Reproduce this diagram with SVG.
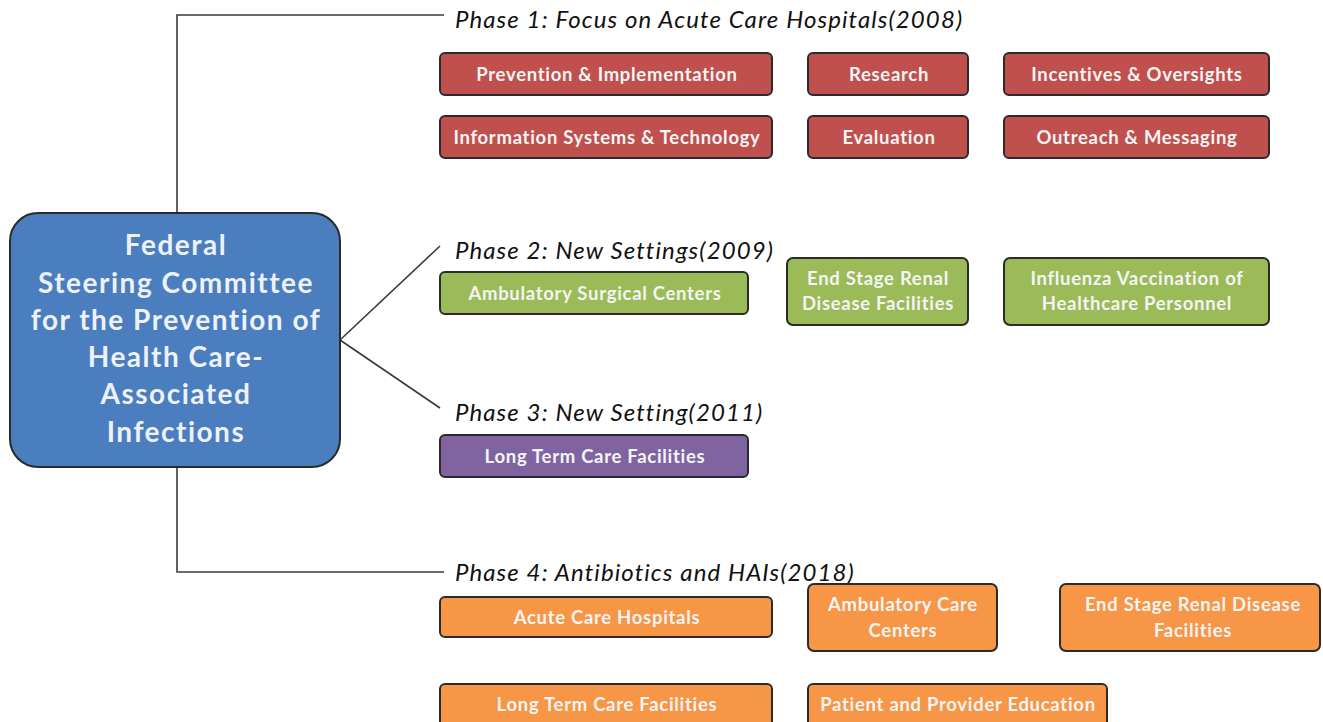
<svg xmlns="http://www.w3.org/2000/svg" width="1323" height="722" viewBox="0 0 1323 722">
  <style>
    .conn { fill: none; stroke: #3a3a3a; stroke-width: 1.6; }
    .box { stroke: #2b2b2b; stroke-width: 2; }
    .red { fill: #c0504d; }
    .green { fill: #9bbb59; }
    .purple { fill: #8064a2; }
    .orange { fill: #f79646; }
    .lbl { font-family: Lato, "Liberation Sans", sans-serif; font-weight: bold; font-size: 18.5px; letter-spacing: 0.7px; fill: #f4f4f4; text-anchor: middle; }
    .phase { font-family: Lato, "Liberation Sans", sans-serif; font-style: italic; font-size: 24px; letter-spacing: 1.1px; fill: #111; }
    .root { font-family: Lato, "Liberation Sans", sans-serif; font-weight: bold; font-size: 28px; letter-spacing: 1.5px; fill: #eef2f8; text-anchor: middle; }
  </style>
  <rect width="1323" height="722" fill="#ffffff"/>

  <!-- connectors -->
  <g id="connectors">
    <polyline class="conn" points="444,15 177,15 177,213"/>
    <polyline class="conn" points="177,467 177,572 444,572"/>
    <line class="conn" x1="340" y1="340" x2="440" y2="246"/>
    <line class="conn" x1="340" y1="340" x2="440" y2="408"/>
  </g>

  <!-- root node -->
  <g id="root">
    <rect class="box" x="10" y="213" width="330" height="254" rx="28" fill="#4a7ebf"/>
    <text class="root" x="176" y="255">Federal</text>
    <text class="root" x="176" y="293">Steering Committee</text>
    <text class="root" x="176" y="330">for the Prevention of</text>
    <text class="root" x="176" y="367">Health Care-</text>
    <text class="root" x="176" y="404">Associated</text>
    <text class="root" x="176" y="442">Infections</text>
  </g>

  <!-- phase 1 -->
  <g id="phase1">
    <text class="phase" x="455" y="28">Phase 1: Focus on Acute Care Hospitals(2008)</text>
  </g>
  <g id="p1-prevention">
    <rect class="box red" x="440" y="53" width="332" height="42" rx="5"/>
    <text class="lbl" x="607" y="81">Prevention &amp; Implementation</text>
  </g>
  <g id="p1-research">
    <rect class="box red" x="808" y="53" width="160" height="42" rx="5"/>
    <text class="lbl" x="889" y="81">Research</text>
  </g>
  <g id="p1-incentives">
    <rect class="box red" x="1004" y="53" width="265" height="42" rx="5"/>
    <text class="lbl" x="1137" y="81">Incentives &amp; Oversights</text>
  </g>
  <g id="p1-info">
    <rect class="box red" x="440" y="116" width="332" height="42" rx="5"/>
    <text class="lbl" x="607" y="144">Information Systems &amp; Technology</text>
  </g>
  <g id="p1-evaluation">
    <rect class="box red" x="808" y="116" width="160" height="42" rx="5"/>
    <text class="lbl" x="889" y="144">Evaluation</text>
  </g>
  <g id="p1-outreach">
    <rect class="box red" x="1004" y="116" width="265" height="42" rx="5"/>
    <text class="lbl" x="1137" y="144">Outreach &amp; Messaging</text>
  </g>

  <!-- phase 2 -->
  <g id="phase2">
    <text class="phase" x="455" y="259">Phase 2: New Settings(2009)</text>
  </g>
  <g id="p2-asc">
    <rect class="box green" x="440" y="272" width="308" height="42" rx="5"/>
    <text class="lbl" x="595" y="300">Ambulatory Surgical Centers</text>
  </g>
  <g id="p2-esrd">
    <rect class="box green" x="787" y="258" width="181" height="67" rx="6"/>
    <text class="lbl" x="878" y="285">End Stage Renal</text>
    <text class="lbl" x="878" y="310">Disease Facilities</text>
  </g>
  <g id="p2-flu">
    <rect class="box green" x="1004" y="258" width="265" height="67" rx="6"/>
    <text class="lbl" x="1137" y="285">Influenza Vaccination of</text>
    <text class="lbl" x="1137" y="310">Healthcare Personnel</text>
  </g>

  <!-- phase 3 -->
  <g id="phase3">
    <text class="phase" x="455" y="421">Phase 3: New Setting(2011)</text>
  </g>
  <g id="p3-ltcf">
    <rect class="box purple" x="440" y="435" width="308" height="42" rx="5"/>
    <text class="lbl" x="595" y="463">Long Term Care Facilities</text>
  </g>

  <!-- phase 4 -->
  <g id="phase4">
    <text class="phase" x="455" y="581">Phase 4: Antibiotics and HAIs(2018)</text>
  </g>
  <g id="p4-ach">
    <rect class="box orange" x="440" y="597" width="332" height="40" rx="5"/>
    <text class="lbl" x="607" y="624">Acute Care Hospitals</text>
  </g>
  <g id="p4-acc">
    <rect class="box orange" x="808" y="584" width="189" height="67" rx="6"/>
    <text class="lbl" x="903" y="611">Ambulatory Care</text>
    <text class="lbl" x="903" y="637">Centers</text>
  </g>
  <g id="p4-esrd">
    <rect class="box orange" x="1060" y="584" width="260" height="67" rx="6"/>
    <text class="lbl" x="1193" y="611">End Stage Renal Disease</text>
    <text class="lbl" x="1193" y="637">Facilities</text>
  </g>
  <g id="p4-ltcf">
    <rect class="box orange" x="440" y="684" width="332" height="44" rx="5"/>
    <text class="lbl" x="607" y="711">Long Term Care Facilities</text>
  </g>
  <g id="p4-edu">
    <rect class="box orange" x="808" y="684" width="299" height="44" rx="5"/>
    <text class="lbl" x="958" y="711">Patient and Provider Education</text>
  </g>
</svg>
